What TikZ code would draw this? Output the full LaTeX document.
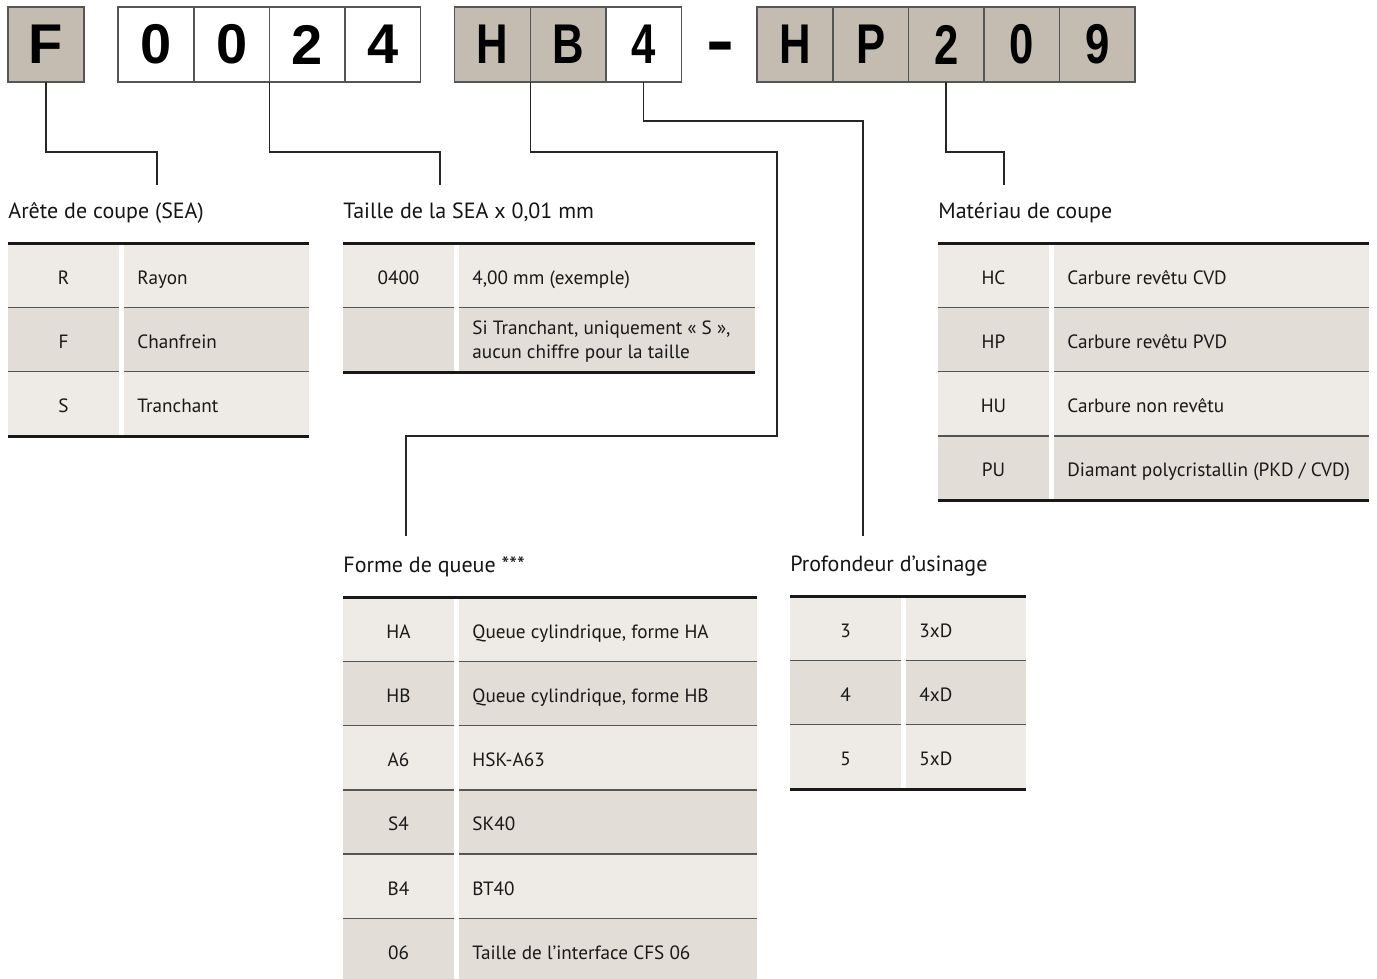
\documentclass[tikz,border=0pt]{standalone}
\usepackage{fontspec}
\setmainfont{PT Sans}
\newfontfamily\codefont{Liberation Sans}
\usetikzlibrary{positioning}

\definecolor{codefill}{RGB}{196,188,177}
\definecolor{rowlight}{RGB}{238,234,230}
\definecolor{rowdark}{RGB}{227,221,215}
\definecolor{inkgray}{RGB}{85,85,85}

% condensed letters of the second half of the code
\newcommand\narrowcode[1]{\scalebox{0.78}[1]{#1}}

% shaded rows of a key table: name, left x, split x, right x, rows
\newcommand\tablerows[5]{%
    \foreach \rowtop/\code/\desc/\tone [count=\i] in {#5} {
        \fill[\tone] (#2,\rowtop) rectangle (#3,\rowtop+64.3);
        \fill[\tone] (#3+5,\rowtop) rectangle (#4,\rowtop+64.3);
        \draw[rowline] (#2,\rowtop) -- (#3,\rowtop) (#3+5,\rowtop) -- (#4,\rowtop);
        \node[codetext] (#1-code-\i) at ({(#2+#3)/2},\rowtop+41) {\code};
        \node[desctext] (#1-desc-\i) at (#3+18,\rowtop+41) {\desc};
    }%
}

\begin{document}
\begin{tikzpicture}
[
    x = 0.5pt, y = -0.5pt,
    codebox/.style = {draw = inkgray, line width = 0.75pt, fill = codefill,
        minimum width = 37.8pt, minimum height = 37.5pt,
        inner sep = 0pt, outer sep = 0pt,
        font = \codefont\bfseries\fontsize{28}{28}\selectfont},
    blankbox/.style = {codebox, fill = white},
    link/.style = {line width = 0.75pt, black!85},
    headtext/.style = {anchor = base west, inner sep = 0pt, text = black!92,
        font = \fontsize{11}{13}\selectfont},
    codetext/.style = {anchor = base, inner sep = 0pt, text = black!90,
        font = \fontsize{9.6}{12}\selectfont},
    desctext/.style = {anchor = base west, inner sep = 0pt, align = left,
        text = black!90, font = \fontsize{9.6}{12}\selectfont},
    rowline/.style = {line width = 0.8pt, inkgray},
    rule/.style = {line width = 1.5pt, black!90},
]
\useasboundingbox (0,0) rectangle (1377,979);

% the code
\node[codebox] (F) at (46,44.5) {F};

\node[blankbox] (size1) at (156,44.5) {0};
\node[blankbox, right = 0pt of size1] (size2) {0};
\node[blankbox, right = 0pt of size2] (size3) {2};
\node[blankbox, right = 0pt of size3] (size4) {4};

\node[codebox] (hb1) at (492.5,44.5) {\narrowcode{H}};
\node[codebox, right = 0pt of hb1] (hb2) {\narrowcode{B}};
\node[blankbox, right = 0pt of hb2] (hb3) {\narrowcode{4}};

\node[inner sep = 0pt, font = \codefont\bfseries\fontsize{28}{28}\selectfont]
    (dash) at (720,53) {\scalebox{1.5}[1.2]{-}};

\node[codebox] (hp1) at (795,44.5) {\narrowcode{H}};
\node[codebox, right = 0pt of hp1] (hp2) {\narrowcode{P}};
\node[codebox, right = 0pt of hp2] (hp3) {\narrowcode{2}};
\node[codebox, right = 0pt of hp3] (hp4) {\narrowcode{0}};
\node[codebox, right = 0pt of hp4] (hp5) {\narrowcode{9}};

% connectors
\coordinate (seaEnd) at (157,185);
\coordinate (sizeEnd) at (440,185);
\coordinate (shankTurn) at (777,436);
\coordinate (shankEnd) at (406,536);
\coordinate (depthEnd) at (863,536);
\coordinate (gradeEnd) at (1004,185);

\draw[link] (F.south) -- ++(0,70) -| (seaEnd);
\draw[link] (size2.south east) -- ++(0,70) -| (sizeEnd);
\draw[link] (hb1.south east) -- ++(0,70) -| (shankTurn) -| (shankEnd);
\draw[link] (hb3.south) -- ++(0,39) -| (depthEnd);
\draw[link] (hp3.south) -- ++(0,70) -| (gradeEnd);

% cutting edge
\node[headtext] (seaHead) at (8,218.5) {Arête de coupe (SEA)};
\tablerows{sea}{8}{119}{309}{243/R/Rayon/rowlight,
    307.3/F/Chanfrein/rowdark, 371.6/S/Tranchant/rowlight}
\draw[rule] (8,243) -- (309,243) (8,436) -- (309,436);

% edge size
\node[headtext] (sizeHead) at (343,218.5) {Taille de la SEA x 0,01 mm};
\tablerows{size}{343}{454}{755}{243/0400/{4,00 mm (exemple)}/rowlight,
    307.3/{}/{}/rowdark}
\node[desctext, anchor = west] (sizeNote) at (472,342)
    {Si Tranchant, uniquement «~S~»,\\aucun chiffre pour la taille};
\draw[rule] (343,243) -- (755,243) (343,372) -- (755,372);

% grade
\node[headtext] (gradeHead) at (938,218.5) {Matériau de coupe};
\tablerows{grade}{938}{1049}{1369}{243/HC/Carbure revêtu CVD/rowlight,
    307.3/HP/Carbure revêtu PVD/rowdark,
    371.6/HU/Carbure non revêtu/rowlight,
    435.9/PU/{Diamant polycristallin (PKD / CVD)}/rowdark}
\draw[rule] (938,243) -- (1369,243) (938,500) -- (1369,500);

% shank
\node[headtext] (shankHead) at (343,572) {Forme de queue ***};
\tablerows{shank}{343}{454}{757}{597/HA/{Queue cylindrique, forme HA}/rowlight,
    661.3/HB/{Queue cylindrique, forme HB}/rowdark,
    725.6/A6/HSK-A63/rowlight,
    789.9/S4/SK40/rowdark,
    854.2/B4/BT40/rowlight,
    918.5/06/Taille de l’interface CFS 06/rowdark}
\draw[rule] (343,597) -- (757,597);

% drilling depth
\node[headtext] (depthHead) at (790,571) {Profondeur d’usinage};
\tablerows{depth}{790}{901}{1026}{596/3/3xD/rowlight,
    660.3/4/4xD/rowdark, 724.6/5/5xD/rowlight}
\draw[rule] (790,596) -- (1026,596) (790,789) -- (1026,789);
\end{tikzpicture}
\end{document}
